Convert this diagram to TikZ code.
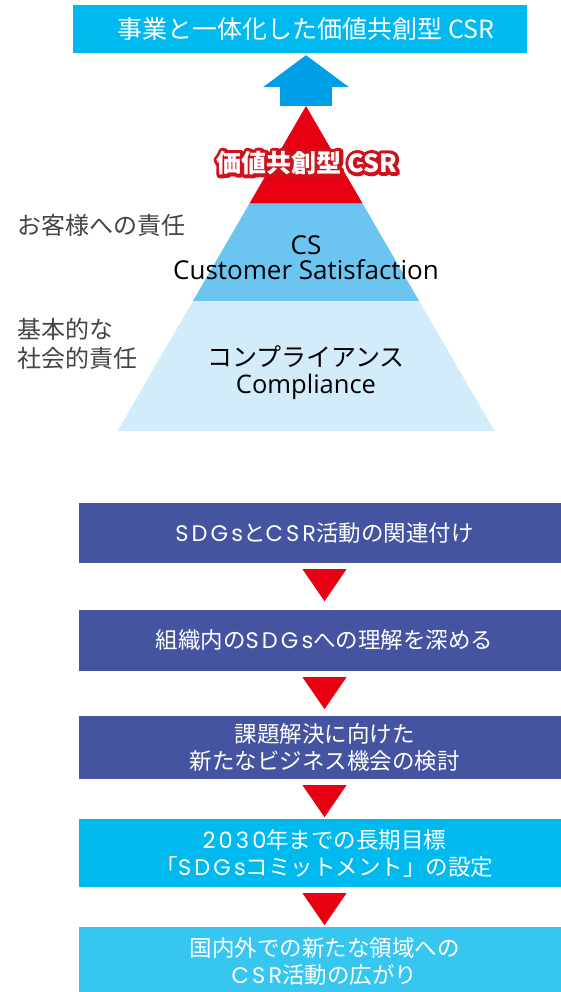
\documentclass[tikz,border=0pt]{standalone}
\usepackage{fontspec}
\setmainfont{Noto Sans CJK JP}
\newfontfamily\spacedfont{Poppins}[LetterSpace=14]
\newfontfamily\pyrlatin{Open Sans}
\usetikzlibrary{calc,arrows.meta,positioning}
\definecolor{goalCyan}{RGB}{0,185,239}
\definecolor{arrowBlue}{RGB}{0,160,233}
\definecolor{pyrRed}{RGB}{230,0,18}
\definecolor{glowRed}{RGB}{205,18,28}
\definecolor{pyrMid}{RGB}{108,197,241}
\definecolor{pyrLight}{RGB}{211,236,250}
\definecolor{flowIndigo}{RGB}{69,84,160}
\definecolor{flowCyan}{RGB}{0,185,239}
\definecolor{flowSky}{RGB}{54,198,240}
\definecolor{labelGray}{RGB}{68,68,68}
\newcommand{\ltr}[1]{{\spacedfont #1}}
% outlined text: stroke pass under a white fill pass
\newcommand{\ringtext}[1]{%
  \rlap{\color{glowRed}\special{pdf:literal direct 1 Tr 7 w 1 j}#1\special{pdf:literal direct 0 Tr 1 w}}%
  #1}

\begin{document}
\begin{tikzpicture}[x=1pt,y=-1pt,
  goalbox/.style={rectangle,fill=goalCyan,minimum width=454pt,minimum height=48pt,
                  inner sep=0pt,text=white,font=\fontsize{25}{30}\selectfont},
  pyrtext/.style={align=center,inner sep=0pt,text=black},
  sidetext/.style={align=left,anchor=west,inner sep=0pt,text=labelGray,
                   font=\fontsize{24}{29}\selectfont},
  flowbox/.style={rectangle,minimum width=491pt,minimum height=#1,inner sep=0pt,
                  text=white,align=center,font=\fontsize{22.5}{27}\selectfont},
  downtri/.style={fill=pyrRed}
]
  \useasboundingbox (0,0) rectangle (561,992);

  % goal and pyramid
  \node[goalbox] (goal) at (300,29) {\hspace*{12pt}事業と一体化した価値共創型 CSR};

  \coordinate (apex)  at (306,106);
  \coordinate (baseL) at (117.5,431);
  \coordinate (baseR) at (494.5,431);
  \fill[pyrRed] (apex) -- ($(apex)!0.3!(baseL)$) -- ($(apex)!0.3!(baseR)$) -- cycle;
  \fill[pyrMid] ($(apex)!0.3!(baseL)$) -- ($(apex)!0.6!(baseL)$)
                -- ($(apex)!0.6!(baseR)$) -- ($(apex)!0.3!(baseR)$) -- cycle;
  \fill[pyrLight] ($(apex)!0.6!(baseL)$) -- (baseL) -- (baseR)
                  -- ($(apex)!0.6!(baseR)$) -- cycle;

  \draw[arrowBlue,line width=52pt,
        -{Triangle[length=32pt,width=86pt,line width=0pt]}]
        (apex) -- ($(apex |- goal.south)+(0,2)$);

  \node[font=\fontsize{25}{30}\selectfont\bfseries,text=white,inner sep=0pt]
        (shared) at (307,163) {\ringtext{価値共創型 CSR}};
  \node[pyrtext,font=\fontsize{26}{25}\selectfont\pyrlatin] (cs) at (306,258)
        {CS\\Customer Satisfaction};
  \node[pyrtext,font=\fontsize{25}{27}\selectfont] (comp) at (306,373)
        {コンプライアンス\\{\fontsize{25.5}{27}\selectfont\pyrlatin Compliance}};

  \node[sidetext] (custresp) at (17,225) {お客様への責任};
  \node[sidetext] (socresp)  at (17,344) {基本的な\\社会的責任};

  % flow
  \node[flowbox=60pt,fill=flowIndigo] (b1) at (324.5,533)
        {\ltr{SDGs}と\ltr{CSR}活動の関連付け};
  \node[flowbox=61pt,fill=flowIndigo] (b2) at (324.5,640.5)
        {組織内の\ltr{SDGs}への理解を深める};
  \node[flowbox=63pt,fill=flowIndigo] (b3) at (324.5,747.5)
        {課題解決に向けた\\新たなビジネス機会の検討};
  \node[flowbox=68pt,fill=flowCyan] (b4) at (324.5,853)
        {\ltr{2030}年までの長期目標\\「\ltr{SDGs}コミットメント」の設定};
  \node[flowbox=68pt,fill=flowSky] (b5) at (324.5,961)
        {国内外での新たな領域への\\\ltr{CSR}活動の広がり};

  \foreach \from in {b1,b2,b3,b4}
    \fill[downtri] ($(\from.south)+(-22,6)$) -- ($(\from.south)+(22,6)$)
                   -- ($(\from.south)+(0,38)$) -- cycle;
\end{tikzpicture}
\end{document}
